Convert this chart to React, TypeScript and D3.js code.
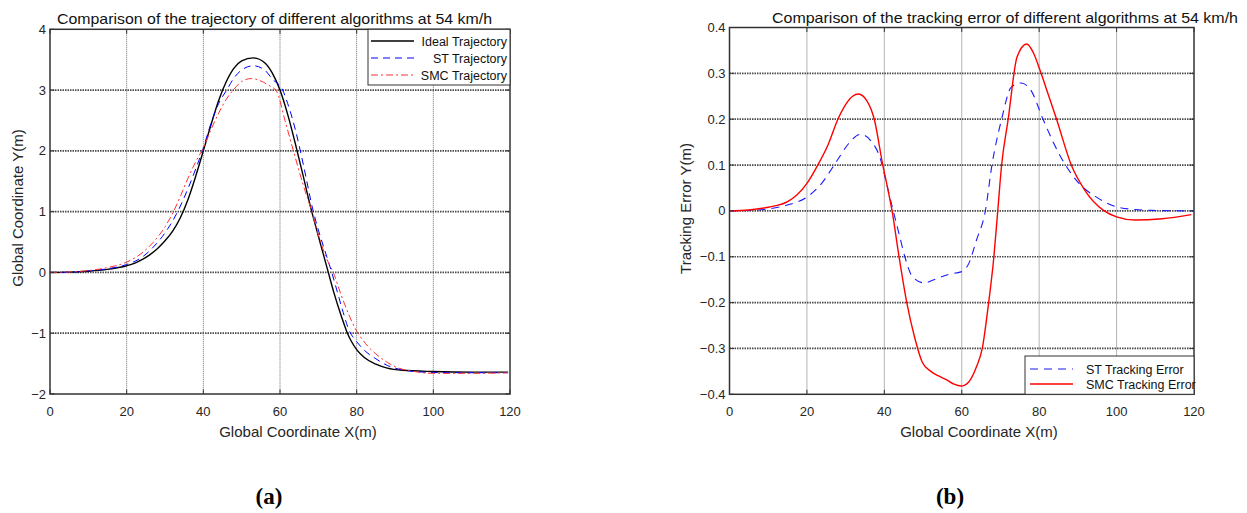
import React from "react";
import * as d3 from "d3";

// ---------- data ----------
const xTicks = [0, 20, 40, 60, 80, 100, 120];
const trajYTicks = [-2, -1, 0, 1, 2, 3, 4];
const errYTicks = [-0.4, -0.3, -0.2, -0.1, 0, 0.1, 0.2, 0.3, 0.4];

const idealX = [0, 5, 10, 15, 20, 22, 24, 26, 28, 30, 32, 34, 36, 38, 40, 42, 44, 46, 48, 50, 53, 56, 58, 60, 62, 64, 66, 68, 70, 72.6, 74, 76, 77.4, 78.5, 80, 82, 85, 88, 92, 100, 110, 119.5];
const idealY = [0, 0.005, 0.02, 0.05, 0.11, 0.15, 0.21, 0.29, 0.39, 0.52, 0.68, 0.9, 1.2, 1.58, 2.0, 2.43, 2.83, 3.14, 3.36, 3.48, 3.53, 3.45, 3.28, 3.0, 2.6, 2.12, 1.6, 1.07, 0.6, 0, -0.32, -0.72, -0.97, -1.12, -1.27, -1.4, -1.51, -1.575, -1.61, -1.63, -1.64, -1.64];

const stTrajX = [0, 5, 10, 15, 20, 24, 27, 30, 33.3, 36, 38, 40, 42, 44, 46.1, 48, 50, 53, 56, 58, 60.7, 62, 64, 66, 68.7, 70, 72, 73.5, 75, 76.5, 78, 79, 80, 82, 85, 88, 91, 95, 100, 110, 119.5];
const stTrajY = [0, 0.005, 0.025, 0.06, 0.13, 0.25, 0.42, 0.65, 1.0, 1.38, 1.7, 2.05, 2.45, 2.78, 3.0, 3.2, 3.33, 3.4, 3.33, 3.18, 3.0, 2.78, 2.35, 1.8, 1.0, 0.7, 0.3, 0, -0.33, -0.66, -0.95, -1.06, -1.14, -1.28, -1.42, -1.53, -1.59, -1.63, -1.645, -1.65, -1.65];

const smcTrajX = [0, 5, 10, 15, 20, 24, 27, 30, 32.2, 34, 36, 38, 40, 42, 44, 46, 47.8, 50, 52.5, 55, 57, 59.1, 61.3, 63.5, 66, 68.3, 70, 72, 73.9, 76, 78, 79.6, 81, 83, 85, 88, 90, 95, 100, 110, 119.5];
const smcTrajY = [0, 0.008, 0.03, 0.08, 0.17, 0.32, 0.5, 0.75, 1.0, 1.25, 1.55, 1.82, 2.05, 2.35, 2.62, 2.85, 3.0, 3.14, 3.19, 3.15, 3.08, 2.98, 2.5, 2.0, 1.45, 1.0, 0.62, 0.25, 0, -0.38, -0.7, -0.92, -1.06, -1.22, -1.34, -1.48, -1.55, -1.63, -1.66, -1.66, -1.65];

const stErrX = [0, 5, 9.8, 15, 20, 23.8, 27.8, 30.8, 33.8, 36.8, 38.8, 40.8, 42.3, 43.8, 45.3, 47.3, 50.3, 52.8, 56.8, 59.8, 61.8, 63.8, 66.1, 67.8, 70.3, 72.8, 75.3, 77.8, 81, 83.8, 86.8, 90.3, 94.8, 100, 104.8, 110, 119.8];
const stErrY = [0, 0.001, 0.004, 0.013, 0.03, 0.06, 0.11, 0.147, 0.167, 0.15, 0.118, 0.052, 0, -0.05, -0.1, -0.144, -0.157, -0.15, -0.138, -0.133, -0.115, -0.064, 0, 0.1, 0.2, 0.27, 0.279, 0.264, 0.2, 0.147, 0.1, 0.06, 0.03, 0.009, 0.003, 0.001, 0];

const smcErrX = [0, 5, 10, 15, 20, 22.8, 25.5, 28, 30, 31.8, 33.3, 35.5, 37.4, 39.6, 40.8, 42, 43.8, 45.8, 47.8, 49.8, 52, 54, 56, 58, 59.8, 61.8, 63.8, 65.3, 66.8, 68.3, 69.3, 70.3, 72, 74.3, 76.8, 78.5, 80.3, 82.3, 84.5, 88.3, 91.8, 96.8, 100, 104.8, 111.8, 119.3];
const smcErrY = [0, 0.002, 0.008, 0.02, 0.06, 0.1, 0.145, 0.2, 0.232, 0.25, 0.255, 0.24, 0.2, 0.1, 0.052, 0, -0.1, -0.2, -0.275, -0.33, -0.35, -0.36, -0.368, -0.378, -0.382, -0.373, -0.34, -0.3, -0.21, -0.1, 0, 0.1, 0.2, 0.336, 0.364, 0.345, 0.305, 0.255, 0.2, 0.1, 0.045, 0, -0.013, -0.02, -0.017, -0.008];

const trajLegend = ["Ideal Trajectory", "ST Trajectory", "SMC Trajectory"];
const errLegend = ["ST Tracking Error", "SMC Tracking Error"];

// ---------- helpers ----------
const zip = (xs: number[], ys: number[]) => xs.map((x, i) => [x, ys[i]] as [number, number]);
const fmt = (v: number) => (v === 0 ? "0" : String(v).replace("-", "\u2212"));
const FONT = "'Liberation Sans', Arial, sans-serif";
const TXT = "#262626";

type Series = { data: [number, number][]; color: string; width: number; dash?: string };
type Legend = {
  x0: number; x1: number; y0: number; y1: number;
  rows: number[]; lineX0: number; lineX1: number;
  textX: number; anchor: "start" | "end";
  labels: string[]; series: Series[];
};

type PanelProps = {
  left: number; right: number; top: number; bottom: number;
  xDomain: [number, number]; yDomain: [number, number];
  yTicks: number[];
  title: string; titleX: number; titleY: number; titleLen: number;
  xLabel: string; xLabelX: number;
  yLabel: string; yLabelX: number; yLabelY: number;
  series: Series[];
  legend: Legend;
};

function Panel(p: PanelProps) {
  const xs = d3.scaleLinear().domain(p.xDomain).range([p.left, p.right]);
  const ys = d3.scaleLinear().domain(p.yDomain).range([p.bottom, p.top]);
  const line = d3
    .line<[number, number]>()
    .x((d) => xs(d[0]))
    .y((d) => ys(d[1]))
    .curve(d3.curveMonotoneX);
  const tl = 4.5;
  const lg = p.legend;
  return (
    <g>
      {/* grid */}
      {xTicks.slice(1, -1).map((t) => (
        <line key={"vx" + t} x1={xs(t)} x2={xs(t)} y1={p.top} y2={p.bottom}
          stroke="#6a6a6a" strokeWidth={1} strokeDasharray="1,1" />
      ))}
      {p.yTicks.slice(1, -1).map((t) => (
        <line key={"hy" + t} x1={p.left} x2={p.right} y1={ys(t)} y2={ys(t)}
          stroke="#4a4a4a" strokeWidth={1.7} strokeDasharray="1.5,1" />
      ))}
      {/* series */}
      {p.series.map((s, i) => (
        <path key={"s" + i} d={line(s.data) || ""} fill="none" stroke={s.color}
          strokeWidth={s.width} strokeDasharray={s.dash} />
      ))}
      {/* box and ticks */}
      <rect x={p.left} y={p.top} width={p.right - p.left} height={p.bottom - p.top}
        fill="none" stroke="#333" strokeWidth={1.5} />
      {xTicks.map((t) => (
        <g key={"xt" + t}>
          <line x1={xs(t)} x2={xs(t)} y1={p.bottom} y2={p.bottom - tl} stroke="#333" />
          <line x1={xs(t)} x2={xs(t)} y1={p.top} y2={p.top + tl} stroke="#333" />
          <text x={xs(t)} y={p.bottom + 22} textAnchor="middle" fontSize={13}
            fontFamily={FONT} fill={TXT}>{fmt(t)}</text>
        </g>
      ))}
      {p.yTicks.map((t) => (
        <g key={"yt" + t}>
          <line x1={p.left} x2={p.left + tl} y1={ys(t)} y2={ys(t)} stroke="#333" />
          <line x1={p.right} x2={p.right - tl} y1={ys(t)} y2={ys(t)} stroke="#333" />
          <text x={p.left - 4} y={ys(t) + 4.5} textAnchor="end" fontSize={13}
            fontFamily={FONT} fill={TXT}>{fmt(t)}</text>
        </g>
      ))}
      {/* labels */}
      <text x={p.titleX} y={p.titleY} textAnchor="middle" fontSize={15} fontFamily={FONT}
        fill="#111" textLength={p.titleLen} lengthAdjust="spacingAndGlyphs">{p.title}</text>
      <text x={p.xLabelX} y={p.bottom + 43} textAnchor="middle" fontSize={15}
        fontFamily={FONT} fill={TXT}>{p.xLabel}</text>
      <text transform={`translate(${p.yLabelX},${p.yLabelY}) rotate(-90)`} textAnchor="middle"
        dy="0.35em" fontSize={15} fontFamily={FONT} fill={TXT}>{p.yLabel}</text>
      {/* legend */}
      <rect x={lg.x0} y={lg.y0} width={lg.x1 - lg.x0} height={lg.y1 - lg.y0}
        fill="#fff" stroke="#333" strokeWidth={1} />
      {lg.labels.map((lab, i) => (
        <g key={"lg" + i}>
          <line x1={lg.lineX0} x2={lg.lineX1} y1={lg.rows[i]} y2={lg.rows[i]}
            stroke={lg.series[i].color} strokeWidth={lg.series[i].width}
            strokeDasharray={lg.series[i].dash} />
          <text x={lg.textX} y={lg.rows[i] + 4.5} textAnchor={lg.anchor} fontSize={12.5}
            fontFamily={FONT} fill="#111">{lab}</text>
        </g>
      ))}
    </g>
  );
}

export default function App() {
  const trajSeries: Series[] = [
    { data: zip(idealX, idealY), color: "#000", width: 1.4 },
    { data: zip(stTrajX, stTrajY), color: "#0000ff", width: 1, dash: "7,5" },
    { data: zip(smcTrajX, smcTrajY), color: "#ff3030", width: 1, dash: "7,3,2,3" },
  ];
  const errSeries: Series[] = [
    { data: zip(stErrX, stErrY), color: "#1a1aff", width: 1.1, dash: "8,6" },
    { data: zip(smcErrX, smcErrY), color: "#ff0000", width: 1.4 },
  ];
  return (
    <svg width={1247} height={513} style={{ position: "absolute", left: 0, top: 0, background: "#fff" }}>
      <rect width={1247} height={513} fill="#fff" />
      <Panel
        left={50} right={510} top={29.3} bottom={394}
        xDomain={[0, 120]} yDomain={[-2, 4]} yTicks={trajYTicks}
        title="Comparison of the trajectory of different algorithms at 54 km/h"
        titleX={274.5} titleY={24} titleLen={435}
        xLabel="Global Coordinate X(m)" xLabelX={298}
        yLabel="Global Coordinate Y(m)" yLabelX={18} yLabelY={208}
        series={trajSeries}
        legend={{
          x0: 368, x1: 510, y0: 29.3, y1: 85, rows: [41, 58, 75],
          lineX0: 371, lineX1: 414, textX: 507, anchor: "end",
          labels: trajLegend, series: trajSeries,
        }}
      />
      <Panel
        left={729.5} right={1194} top={27.5} bottom={394.3}
        xDomain={[0, 120]} yDomain={[-0.4, 0.4]} yTicks={errYTicks}
        title="Comparison of the tracking error of different algorithms at 54 km/h"
        titleX={1005} titleY={22.5} titleLen={466}
        xLabel="Global Coordinate X(m)" xLabelX={979}
        yLabel="Tracking Error Y(m)" yLabelX={686} yLabelY={208.5}
        series={errSeries}
        legend={{
          x0: 1025, x1: 1194, y0: 356, y1: 394.3, rows: [369, 384],
          lineX0: 1030, lineX1: 1073, textX: 1086, anchor: "start",
          labels: errLegend, series: errSeries,
        }}
      />
      <text x={269} y={504} textAnchor="middle" fontSize={23} fontWeight="bold"
        fontFamily="'Liberation Serif', 'DejaVu Serif', serif" fill="#000">(a)</text>
      <text x={950} y={504} textAnchor="middle" fontSize={23} fontWeight="bold"
        fontFamily="'Liberation Serif', 'DejaVu Serif', serif" fill="#000">(b)</text>
    </svg>
  );
}
